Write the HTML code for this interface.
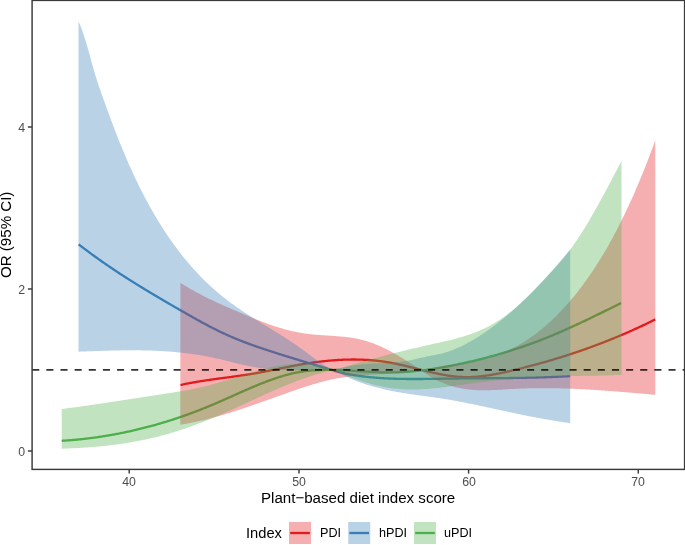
<!DOCTYPE html>
<html><head><meta charset="utf-8"><style>
html,body{margin:0;padding:0;background:#fff;}
body{width:685px;height:545px;position:relative;overflow:hidden;font-family:"Liberation Sans",sans-serif;}
svg{position:absolute;left:0;top:0;}
.t{position:absolute;white-space:nowrap;line-height:1;will-change:transform;}
.yt{color:#4D4D4D;font-size:12.3px;text-align:right;width:20px;}
.xt{color:#4D4D4D;font-size:12.3px;text-align:center;width:40px;}
.ttl{color:#000;font-size:15.1px;}
.lg{color:#000;font-size:12.6px;}
</style></head><body>
<svg width="685" height="545" viewBox="0 0 685 545">
<path d="M180.50,385.00 181.50,384.78 182.50,384.57 183.50,384.35 184.50,384.15 185.50,383.94 186.50,383.74 187.50,383.54 188.50,383.35 189.50,383.16 190.50,382.97 191.50,382.78 192.50,382.60 193.50,382.42 194.50,382.25 195.50,382.07 196.50,381.90 197.50,381.73 198.50,381.57 199.50,381.41 200.50,381.24 201.50,381.08 202.50,380.93 203.50,380.77 204.50,380.62 205.50,380.47 206.50,380.32 207.50,380.17 208.50,380.02 209.50,379.88 210.50,379.74 211.50,379.59 212.50,379.45 213.50,379.31 214.50,379.17 215.50,379.03 216.50,378.90 217.50,378.76 218.50,378.63 219.50,378.49 220.50,378.36 221.50,378.22 222.50,378.09 223.50,377.95 224.50,377.82 225.50,377.69 226.50,377.55 227.50,377.42 228.50,377.29 229.50,377.15 230.50,377.02 231.50,376.88 232.50,376.75 233.50,376.61 234.50,376.47 235.50,376.33 236.50,376.20 237.50,376.06 238.50,375.91 239.50,375.77 240.50,375.63 241.50,375.48 242.50,375.34 243.50,375.19 244.50,375.04 245.50,374.89 246.50,374.74 247.50,374.58 248.50,374.43 249.50,374.27 250.50,374.11 251.50,373.94 252.50,373.78 253.50,373.61 254.50,373.44 255.50,373.27 256.50,373.09 257.50,372.91 258.50,372.73 259.50,372.55 260.50,372.37 261.50,372.18 262.50,371.99 263.50,371.80 264.50,371.61 265.50,371.42 266.50,371.22 267.50,371.02 268.50,370.83 269.50,370.63 270.50,370.43 271.50,370.23 272.50,370.03 273.50,369.83 274.50,369.63 275.50,369.42 276.50,369.22 277.50,369.02 278.50,368.82 279.50,368.61 280.50,368.41 281.50,368.21 282.50,368.01 283.50,367.81 284.50,367.61 285.50,367.40 286.50,367.21 287.50,367.01 288.50,366.81 289.50,366.61 290.50,366.42 291.50,366.23 292.50,366.03 293.50,365.84 294.50,365.66 295.50,365.47 296.50,365.28 297.50,365.10 298.50,364.92 299.50,364.74 300.50,364.57 301.50,364.39 302.50,364.22 303.50,364.05 304.50,363.89 305.50,363.72 306.50,363.56 307.50,363.40 308.50,363.25 309.50,363.09 310.50,362.94 311.50,362.80 312.50,362.65 313.50,362.51 314.50,362.37 315.50,362.23 316.50,362.10 317.50,361.97 318.50,361.84 319.50,361.72 320.50,361.59 321.50,361.48 322.50,361.36 323.50,361.25 324.50,361.14 325.50,361.03 326.50,360.93 327.50,360.83 328.50,360.73 329.50,360.64 330.50,360.55 331.50,360.47 332.50,360.38 333.50,360.30 334.50,360.23 335.50,360.16 336.50,360.09 337.50,360.02 338.50,359.96 339.50,359.91 340.50,359.85 341.50,359.80 342.50,359.76 343.50,359.71 344.50,359.68 345.50,359.64 346.50,359.61 347.50,359.58 348.50,359.56 349.50,359.54 350.50,359.53 351.50,359.52 352.50,359.51 353.50,359.51 354.50,359.51 355.50,359.52 356.50,359.53 357.50,359.55 358.50,359.57 359.50,359.59 360.50,359.62 361.50,359.65 362.50,359.69 363.50,359.73 364.50,359.78 365.50,359.83 366.50,359.89 367.50,359.95 368.50,360.01 369.50,360.08 370.50,360.16 371.50,360.24 372.50,360.32 373.50,360.41 374.50,360.51 375.50,360.61 376.50,360.71 377.50,360.82 378.50,360.93 379.50,361.05 380.50,361.18 381.50,361.31 382.50,361.44 383.50,361.58 384.50,361.73 385.50,361.88 386.50,362.04 387.50,362.20 388.50,362.37 389.50,362.54 390.50,362.72 391.50,362.90 392.50,363.09 393.50,363.28 394.50,363.48 395.50,363.68 396.50,363.89 397.50,364.10 398.50,364.32 399.50,364.54 400.50,364.76 401.50,364.99 402.50,365.22 403.50,365.45 404.50,365.69 405.50,365.92 406.50,366.16 407.50,366.41 408.50,366.65 409.50,366.90 410.50,367.14 411.50,367.39 412.50,367.64 413.50,367.89 414.50,368.14 415.50,368.40 416.50,368.65 417.50,368.90 418.50,369.15 419.50,369.40 420.50,369.66 421.50,369.91 422.50,370.16 423.50,370.40 424.50,370.65 425.50,370.90 426.50,371.14 427.50,371.38 428.50,371.62 429.50,371.86 430.50,372.09 431.50,372.33 432.50,372.55 433.50,372.78 434.50,373.00 435.50,373.22 436.50,373.44 437.50,373.65 438.50,373.85 439.50,374.06 440.50,374.25 441.50,374.45 442.50,374.63 443.50,374.82 444.50,374.99 445.50,375.16 446.50,375.33 447.50,375.49 448.50,375.64 449.50,375.79 450.50,375.93 451.50,376.06 452.50,376.19 453.50,376.31 454.50,376.42 455.50,376.52 456.50,376.62 457.50,376.70 458.50,376.78 459.50,376.85 460.50,376.92 461.50,376.97 462.50,377.01 463.50,377.05 464.50,377.07 465.50,377.09 466.50,377.10 467.50,377.09 468.50,377.08 469.50,377.07 470.50,377.04 471.50,377.00 472.50,376.96 473.50,376.91 474.50,376.85 475.50,376.79 476.50,376.71 477.50,376.63 478.50,376.55 479.50,376.45 480.50,376.35 481.50,376.24 482.50,376.13 483.50,376.01 484.50,375.88 485.50,375.75 486.50,375.61 487.50,375.46 488.50,375.32 489.50,375.16 490.50,375.00 491.50,374.83 492.50,374.66 493.50,374.49 494.50,374.31 495.50,374.12 496.50,373.94 497.50,373.74 498.50,373.55 499.50,373.35 500.50,373.14 501.50,372.93 502.50,372.72 503.50,372.51 504.50,372.29 505.50,372.07 506.50,371.85 507.50,371.62 508.50,371.39 509.50,371.16 510.50,370.93 511.50,370.69 512.50,370.45 513.50,370.22 514.50,369.97 515.50,369.73 516.50,369.49 517.50,369.24 518.50,369.00 519.50,368.75 520.50,368.50 521.50,368.25 522.50,368.00 523.50,367.75 524.50,367.49 525.50,367.24 526.50,366.98 527.50,366.72 528.50,366.46 529.50,366.20 530.50,365.94 531.50,365.68 532.50,365.41 533.50,365.14 534.50,364.87 535.50,364.60 536.50,364.33 537.50,364.06 538.50,363.78 539.50,363.51 540.50,363.23 541.50,362.95 542.50,362.67 543.50,362.39 544.50,362.10 545.50,361.82 546.50,361.53 547.50,361.24 548.50,360.95 549.50,360.66 550.50,360.37 551.50,360.07 552.50,359.78 553.50,359.48 554.50,359.18 555.50,358.88 556.50,358.58 557.50,358.27 558.50,357.97 559.50,357.66 560.50,357.35 561.50,357.04 562.50,356.72 563.50,356.41 564.50,356.09 565.50,355.78 566.50,355.46 567.50,355.13 568.50,354.81 569.50,354.49 570.50,354.16 571.50,353.83 572.50,353.50 573.50,353.17 574.50,352.84 575.50,352.50 576.50,352.16 577.50,351.83 578.50,351.48 579.50,351.14 580.50,350.80 581.50,350.45 582.50,350.10 583.50,349.75 584.50,349.40 585.50,349.05 586.50,348.69 587.50,348.34 588.50,347.98 589.50,347.62 590.50,347.25 591.50,346.89 592.50,346.52 593.50,346.16 594.50,345.78 595.50,345.41 596.50,345.04 597.50,344.66 598.50,344.28 599.50,343.90 600.50,343.52 601.50,343.14 602.50,342.75 603.50,342.37 604.50,341.98 605.50,341.58 606.50,341.19 607.50,340.79 608.50,340.40 609.50,340.00 610.50,339.59 611.50,339.19 612.50,338.78 613.50,338.38 614.50,337.97 615.50,337.55 616.50,337.14 617.50,336.72 618.50,336.31 619.50,335.89 620.50,335.46 621.50,335.04 622.50,334.61 623.50,334.18 624.50,333.75 625.50,333.32 626.50,332.88 627.50,332.45 628.50,332.01 629.50,331.57 630.50,331.12 631.50,330.68 632.50,330.23 633.50,329.78 634.50,329.32 635.50,328.87 636.50,328.41 637.50,327.95 638.50,327.49 639.50,327.03 640.50,326.56 641.50,326.09 642.50,325.62 643.50,325.15 644.50,324.68 645.50,324.20 646.50,323.72 647.50,323.24 648.50,322.75 649.50,322.27 650.50,321.78 651.50,321.29 652.50,320.79 653.50,320.30 654.50,319.80 655.30,319.40" fill="none" stroke="#E41A1C" stroke-width="2.3"/>
<path d="M78.60,244.30 79.60,245.07 80.60,245.84 81.60,246.61 82.60,247.38 83.60,248.14 84.60,248.89 85.60,249.64 86.60,250.39 87.60,251.14 88.60,251.88 89.60,252.62 90.60,253.36 91.60,254.09 92.60,254.82 93.60,255.55 94.60,256.27 95.60,256.99 96.60,257.71 97.60,258.42 98.60,259.14 99.60,259.84 100.60,260.55 101.60,261.25 102.60,261.95 103.60,262.65 104.60,263.34 105.60,264.03 106.60,264.72 107.60,265.41 108.60,266.09 109.60,266.77 110.60,267.45 111.60,268.12 112.60,268.80 113.60,269.47 114.60,270.13 115.60,270.80 116.60,271.46 117.60,272.12 118.60,272.78 119.60,273.44 120.60,274.09 121.60,274.74 122.60,275.39 123.60,276.04 124.60,276.68 125.60,277.32 126.60,277.96 127.60,278.60 128.60,279.24 129.60,279.87 130.60,280.50 131.60,281.13 132.60,281.76 133.60,282.39 134.60,283.01 135.60,283.64 136.60,284.26 137.60,284.88 138.60,285.49 139.60,286.11 140.60,286.72 141.60,287.34 142.60,287.95 143.60,288.56 144.60,289.17 145.60,289.77 146.60,290.38 147.60,290.98 148.60,291.58 149.60,292.18 150.60,292.78 151.60,293.38 152.60,293.98 153.60,294.58 154.60,295.17 155.60,295.76 156.60,296.36 157.60,296.95 158.60,297.54 159.60,298.13 160.60,298.72 161.60,299.30 162.60,299.89 163.60,300.47 164.60,301.06 165.60,301.64 166.60,302.23 167.60,302.81 168.60,303.39 169.60,303.97 170.60,304.55 171.60,305.13 172.60,305.71 173.60,306.29 174.60,306.87 175.60,307.44 176.60,308.02 177.60,308.60 178.60,309.17 179.60,309.75 180.60,310.32 181.60,310.90 182.60,311.47 183.60,312.05 184.60,312.62 185.60,313.19 186.60,313.76 187.60,314.33 188.60,314.90 189.60,315.47 190.60,316.04 191.60,316.60 192.60,317.17 193.60,317.73 194.60,318.29 195.60,318.85 196.60,319.41 197.60,319.96 198.60,320.52 199.60,321.07 200.60,321.62 201.60,322.16 202.60,322.70 203.60,323.25 204.60,323.78 205.60,324.32 206.60,324.85 207.60,325.38 208.60,325.91 209.60,326.43 210.60,326.95 211.60,327.47 212.60,327.98 213.60,328.49 214.60,329.00 215.60,329.50 216.60,330.00 217.60,330.49 218.60,330.98 219.60,331.47 220.60,331.95 221.60,332.42 222.60,332.90 223.60,333.36 224.60,333.83 225.60,334.29 226.60,334.74 227.60,335.19 228.60,335.63 229.60,336.07 230.60,336.51 231.60,336.94 232.60,337.37 233.60,337.79 234.60,338.21 235.60,338.62 236.60,339.03 237.60,339.44 238.60,339.84 239.60,340.24 240.60,340.64 241.60,341.03 242.60,341.42 243.60,341.80 244.60,342.18 245.60,342.56 246.60,342.94 247.60,343.31 248.60,343.68 249.60,344.05 250.60,344.41 251.60,344.77 252.60,345.13 253.60,345.49 254.60,345.84 255.60,346.19 256.60,346.54 257.60,346.89 258.60,347.23 259.60,347.57 260.60,347.92 261.60,348.25 262.60,348.59 263.60,348.93 264.60,349.26 265.60,349.59 266.60,349.92 267.60,350.25 268.60,350.58 269.60,350.91 270.60,351.23 271.60,351.56 272.60,351.88 273.60,352.20 274.60,352.53 275.60,352.85 276.60,353.16 277.60,353.48 278.60,353.80 279.60,354.12 280.60,354.43 281.60,354.75 282.60,355.06 283.60,355.38 284.60,355.69 285.60,356.00 286.60,356.31 287.60,356.62 288.60,356.93 289.60,357.24 290.60,357.55 291.60,357.86 292.60,358.16 293.60,358.47 294.60,358.78 295.60,359.08 296.60,359.39 297.60,359.69 298.60,360.00 299.60,360.30 300.60,360.61 301.60,360.91 302.60,361.21 303.60,361.52 304.60,361.82 305.60,362.12 306.60,362.42 307.60,362.73 308.60,363.03 309.60,363.33 310.60,363.63 311.60,363.93 312.60,364.24 313.60,364.54 314.60,364.84 315.60,365.14 316.60,365.44 317.60,365.75 318.60,366.05 319.60,366.35 320.60,366.65 321.60,366.96 322.60,367.26 323.60,367.56 324.60,367.86 325.60,368.16 326.60,368.46 327.60,368.76 328.60,369.06 329.60,369.35 330.60,369.64 331.60,369.93 332.60,370.21 333.60,370.50 334.60,370.78 335.60,371.05 336.60,371.32 337.60,371.59 338.60,371.85 339.60,372.11 340.60,372.36 341.60,372.61 342.60,372.85 343.60,373.09 344.60,373.32 345.60,373.54 346.60,373.76 347.60,373.97 348.60,374.17 349.60,374.37 350.60,374.55 351.60,374.74 352.60,374.91 353.60,375.08 354.60,375.25 355.60,375.41 356.60,375.56 357.60,375.71 358.60,375.85 359.60,375.99 360.60,376.12 361.60,376.25 362.60,376.38 363.60,376.50 364.60,376.61 365.60,376.73 366.60,376.84 367.60,376.95 368.60,377.05 369.60,377.15 370.60,377.25 371.60,377.34 372.60,377.43 373.60,377.52 374.60,377.61 375.60,377.69 376.60,377.77 377.60,377.84 378.60,377.91 379.60,377.99 380.60,378.05 381.60,378.12 382.60,378.18 383.60,378.24 384.60,378.30 385.60,378.35 386.60,378.40 387.60,378.45 388.60,378.50 389.60,378.54 390.60,378.58 391.60,378.62 392.60,378.66 393.60,378.70 394.60,378.73 395.60,378.76 396.60,378.79 397.60,378.82 398.60,378.84 399.60,378.87 400.60,378.89 401.60,378.91 402.60,378.93 403.60,378.94 404.60,378.96 405.60,378.97 406.60,378.98 407.60,378.99 408.60,379.00 409.60,379.01 410.60,379.01 411.60,379.01 412.60,379.02 413.60,379.02 414.60,379.02 415.60,379.02 416.60,379.02 417.60,379.01 418.60,379.01 419.60,379.00 420.60,379.00 421.60,378.99 422.60,378.98 423.60,378.97 424.60,378.96 425.60,378.95 426.60,378.94 427.60,378.93 428.60,378.92 429.60,378.90 430.60,378.89 431.60,378.88 432.60,378.86 433.60,378.85 434.60,378.83 435.60,378.82 436.60,378.80 437.60,378.78 438.60,378.77 439.60,378.75 440.60,378.74 441.60,378.72 442.60,378.70 443.60,378.69 444.60,378.67 445.60,378.66 446.60,378.64 447.60,378.63 448.60,378.61 449.60,378.60 450.60,378.58 451.60,378.57 452.60,378.56 453.60,378.54 454.60,378.53 455.60,378.52 456.60,378.51 457.60,378.49 458.60,378.48 459.60,378.47 460.60,378.46 461.60,378.45 462.60,378.44 463.60,378.43 464.60,378.42 465.60,378.41 466.60,378.40 467.60,378.39 468.60,378.39 469.60,378.38 470.60,378.37 471.60,378.36 472.60,378.35 473.60,378.34 474.60,378.34 475.60,378.33 476.60,378.32 477.60,378.31 478.60,378.30 479.60,378.30 480.60,378.29 481.60,378.28 482.60,378.27 483.60,378.27 484.60,378.26 485.60,378.25 486.60,378.24 487.60,378.24 488.60,378.23 489.60,378.22 490.60,378.21 491.60,378.20 492.60,378.20 493.60,378.19 494.60,378.18 495.60,378.17 496.60,378.16 497.60,378.15 498.60,378.14 499.60,378.13 500.60,378.12 501.60,378.11 502.60,378.10 503.60,378.09 504.60,378.08 505.60,378.07 506.60,378.06 507.60,378.05 508.60,378.04 509.60,378.02 510.60,378.01 511.60,378.00 512.60,377.98 513.60,377.97 514.60,377.96 515.60,377.94 516.60,377.92 517.60,377.91 518.60,377.89 519.60,377.88 520.60,377.86 521.60,377.84 522.60,377.82 523.60,377.80 524.60,377.78 525.60,377.77 526.60,377.74 527.60,377.72 528.60,377.70 529.60,377.68 530.60,377.66 531.60,377.63 532.60,377.61 533.60,377.58 534.60,377.56 535.60,377.53 536.60,377.51 537.60,377.48 538.60,377.45 539.60,377.42 540.60,377.39 541.60,377.36 542.60,377.33 543.60,377.30 544.60,377.26 545.60,377.23 546.60,377.19 547.60,377.16 548.60,377.12 549.60,377.09 550.60,377.05 551.60,377.01 552.60,376.97 553.60,376.93 554.60,376.89 555.60,376.84 556.60,376.80 557.60,376.75 558.60,376.71 559.60,376.66 560.60,376.61 561.60,376.56 562.60,376.51 563.60,376.46 564.60,376.41 565.60,376.36 566.60,376.30 567.60,376.25 568.60,376.19 569.60,376.13 570.20,376.10" fill="none" stroke="#377EB8" stroke-width="2.3"/>
<path d="M61.70,440.80 62.70,440.74 63.70,440.68 64.70,440.61 65.70,440.54 66.70,440.47 67.70,440.40 68.70,440.33 69.70,440.25 70.70,440.17 71.70,440.09 72.70,440.00 73.70,439.92 74.70,439.83 75.70,439.74 76.70,439.64 77.70,439.55 78.70,439.45 79.70,439.35 80.70,439.25 81.70,439.14 82.70,439.03 83.70,438.92 84.70,438.81 85.70,438.70 86.70,438.58 87.70,438.46 88.70,438.34 89.70,438.22 90.70,438.09 91.70,437.96 92.70,437.83 93.70,437.70 94.70,437.56 95.70,437.42 96.70,437.28 97.70,437.14 98.70,436.99 99.70,436.84 100.70,436.69 101.70,436.54 102.70,436.39 103.70,436.23 104.70,436.07 105.70,435.91 106.70,435.74 107.70,435.58 108.70,435.41 109.70,435.24 110.70,435.06 111.70,434.89 112.70,434.71 113.70,434.53 114.70,434.34 115.70,434.16 116.70,433.97 117.70,433.78 118.70,433.59 119.70,433.39 120.70,433.19 121.70,432.99 122.70,432.79 123.70,432.59 124.70,432.38 125.70,432.17 126.70,431.96 127.70,431.74 128.70,431.53 129.70,431.31 130.70,431.09 131.70,430.86 132.70,430.64 133.70,430.41 134.70,430.18 135.70,429.94 136.70,429.71 137.70,429.47 138.70,429.23 139.70,428.98 140.70,428.74 141.70,428.49 142.70,428.24 143.70,427.99 144.70,427.73 145.70,427.47 146.70,427.21 147.70,426.95 148.70,426.69 149.70,426.42 150.70,426.15 151.70,425.88 152.70,425.60 153.70,425.33 154.70,425.05 155.70,424.77 156.70,424.48 157.70,424.19 158.70,423.91 159.70,423.61 160.70,423.32 161.70,423.02 162.70,422.72 163.70,422.42 164.70,422.12 165.70,421.81 166.70,421.51 167.70,421.19 168.70,420.88 169.70,420.57 170.70,420.25 171.70,419.93 172.70,419.60 173.70,419.28 174.70,418.95 175.70,418.62 176.70,418.29 177.70,417.95 178.70,417.61 179.70,417.27 180.70,416.93 181.70,416.59 182.70,416.24 183.70,415.89 184.70,415.54 185.70,415.18 186.70,414.82 187.70,414.46 188.70,414.10 189.70,413.74 190.70,413.37 191.70,413.00 192.70,412.63 193.70,412.25 194.70,411.88 195.70,411.50 196.70,411.12 197.70,410.73 198.70,410.34 199.70,409.96 200.70,409.56 201.70,409.17 202.70,408.77 203.70,408.37 204.70,407.97 205.70,407.57 206.70,407.16 207.70,406.75 208.70,406.34 209.70,405.93 210.70,405.51 211.70,405.09 212.70,404.67 213.70,404.25 214.70,403.82 215.70,403.39 216.70,402.96 217.70,402.53 218.70,402.10 219.70,401.66 220.70,401.22 221.70,400.78 222.70,400.34 223.70,399.90 224.70,399.46 225.70,399.01 226.70,398.57 227.70,398.12 228.70,397.67 229.70,397.23 230.70,396.78 231.70,396.33 232.70,395.88 233.70,395.44 234.70,394.99 235.70,394.54 236.70,394.09 237.70,393.65 238.70,393.20 239.70,392.75 240.70,392.31 241.70,391.87 242.70,391.42 243.70,390.98 244.70,390.54 245.70,390.10 246.70,389.67 247.70,389.23 248.70,388.80 249.70,388.36 250.70,387.93 251.70,387.51 252.70,387.08 253.70,386.66 254.70,386.24 255.70,385.82 256.70,385.41 257.70,385.00 258.70,384.59 259.70,384.18 260.70,383.78 261.70,383.38 262.70,382.99 263.70,382.59 264.70,382.21 265.70,381.82 266.70,381.44 267.70,381.07 268.70,380.70 269.70,380.33 270.70,379.97 271.70,379.61 272.70,379.26 273.70,378.91 274.70,378.57 275.70,378.23 276.70,377.90 277.70,377.57 278.70,377.25 279.70,376.93 280.70,376.62 281.70,376.32 282.70,376.02 283.70,375.73 284.70,375.44 285.70,375.16 286.70,374.89 287.70,374.63 288.70,374.37 289.70,374.11 290.70,373.87 291.70,373.63 292.70,373.40 293.70,373.18 294.70,372.96 295.70,372.75 296.70,372.55 297.70,372.36 298.70,372.17 299.70,372.00 300.70,371.83 301.70,371.67 302.70,371.51 303.70,371.37 304.70,371.23 305.70,371.10 306.70,370.98 307.70,370.86 308.70,370.75 309.70,370.65 310.70,370.55 311.70,370.46 312.70,370.38 313.70,370.30 314.70,370.23 315.70,370.17 316.70,370.11 317.70,370.06 318.70,370.01 319.70,369.97 320.70,369.93 321.70,369.90 322.70,369.87 323.70,369.85 324.70,369.83 325.70,369.82 326.70,369.81 327.70,369.81 328.70,369.81 329.70,369.81 330.70,369.82 331.70,369.83 332.70,369.85 333.70,369.87 334.70,369.89 335.70,369.92 336.70,369.95 337.70,369.98 338.70,370.01 339.70,370.05 340.70,370.09 341.70,370.14 342.70,370.18 343.70,370.23 344.70,370.28 345.70,370.33 346.70,370.38 347.70,370.44 348.70,370.49 349.70,370.55 350.70,370.61 351.70,370.67 352.70,370.73 353.70,370.79 354.70,370.86 355.70,370.92 356.70,370.98 357.70,371.05 358.70,371.11 359.70,371.17 360.70,371.24 361.70,371.30 362.70,371.36 363.70,371.43 364.70,371.49 365.70,371.55 366.70,371.61 367.70,371.67 368.70,371.73 369.70,371.78 370.70,371.84 371.70,371.89 372.70,371.94 373.70,371.99 374.70,372.04 375.70,372.08 376.70,372.13 377.70,372.17 378.70,372.21 379.70,372.24 380.70,372.28 381.70,372.31 382.70,372.33 383.70,372.36 384.70,372.38 385.70,372.39 386.70,372.41 387.70,372.41 388.70,372.42 389.70,372.42 390.70,372.42 391.70,372.41 392.70,372.40 393.70,372.38 394.70,372.36 395.70,372.34 396.70,372.31 397.70,372.28 398.70,372.25 399.70,372.21 400.70,372.16 401.70,372.11 402.70,372.06 403.70,372.01 404.70,371.95 405.70,371.89 406.70,371.82 407.70,371.75 408.70,371.68 409.70,371.60 410.70,371.52 411.70,371.44 412.70,371.35 413.70,371.26 414.70,371.16 415.70,371.07 416.70,370.96 417.70,370.86 418.70,370.75 419.70,370.64 420.70,370.53 421.70,370.41 422.70,370.29 423.70,370.17 424.70,370.04 425.70,369.91 426.70,369.78 427.70,369.64 428.70,369.50 429.70,369.36 430.70,369.22 431.70,369.07 432.70,368.92 433.70,368.77 434.70,368.61 435.70,368.45 436.70,368.29 437.70,368.13 438.70,367.96 439.70,367.80 440.70,367.62 441.70,367.45 442.70,367.27 443.70,367.10 444.70,366.92 445.70,366.73 446.70,366.55 447.70,366.36 448.70,366.17 449.70,365.98 450.70,365.78 451.70,365.59 452.70,365.39 453.70,365.19 454.70,364.98 455.70,364.78 456.70,364.57 457.70,364.36 458.70,364.15 459.70,363.94 460.70,363.73 461.70,363.51 462.70,363.29 463.70,363.08 464.70,362.85 465.70,362.63 466.70,362.41 467.70,362.18 468.70,361.95 469.70,361.72 470.70,361.49 471.70,361.26 472.70,361.02 473.70,360.78 474.70,360.54 475.70,360.30 476.70,360.06 477.70,359.81 478.70,359.57 479.70,359.32 480.70,359.07 481.70,358.82 482.70,358.56 483.70,358.30 484.70,358.05 485.70,357.79 486.70,357.52 487.70,357.26 488.70,356.99 489.70,356.72 490.70,356.45 491.70,356.18 492.70,355.91 493.70,355.63 494.70,355.35 495.70,355.07 496.70,354.79 497.70,354.50 498.70,354.21 499.70,353.92 500.70,353.63 501.70,353.34 502.70,353.04 503.70,352.75 504.70,352.44 505.70,352.14 506.70,351.84 507.70,351.53 508.70,351.22 509.70,350.91 510.70,350.60 511.70,350.28 512.70,349.96 513.70,349.64 514.70,349.32 515.70,348.99 516.70,348.66 517.70,348.33 518.70,348.00 519.70,347.67 520.70,347.33 521.70,346.99 522.70,346.65 523.70,346.30 524.70,345.96 525.70,345.61 526.70,345.26 527.70,344.90 528.70,344.55 529.70,344.19 530.70,343.83 531.70,343.46 532.70,343.10 533.70,342.73 534.70,342.35 535.70,341.98 536.70,341.60 537.70,341.22 538.70,340.84 539.70,340.46 540.70,340.07 541.70,339.68 542.70,339.29 543.70,338.89 544.70,338.50 545.70,338.10 546.70,337.69 547.70,337.29 548.70,336.88 549.70,336.47 550.70,336.06 551.70,335.65 552.70,335.23 553.70,334.81 554.70,334.39 555.70,333.97 556.70,333.54 557.70,333.11 558.70,332.68 559.70,332.25 560.70,331.82 561.70,331.38 562.70,330.94 563.70,330.50 564.70,330.06 565.70,329.62 566.70,329.17 567.70,328.72 568.70,328.28 569.70,327.82 570.70,327.37 571.70,326.92 572.70,326.46 573.70,326.00 574.70,325.54 575.70,325.08 576.70,324.62 577.70,324.16 578.70,323.69 579.70,323.22 580.70,322.75 581.70,322.28 582.70,321.81 583.70,321.34 584.70,320.87 585.70,320.39 586.70,319.91 587.70,319.44 588.70,318.96 589.70,318.48 590.70,317.99 591.70,317.51 592.70,317.03 593.70,316.54 594.70,316.06 595.70,315.57 596.70,315.08 597.70,314.59 598.70,314.10 599.70,313.61 600.70,313.12 601.70,312.63 602.70,312.13 603.70,311.64 604.70,311.15 605.70,310.65 606.70,310.15 607.70,309.66 608.70,309.16 609.70,308.66 610.70,308.16 611.70,307.66 612.70,307.16 613.70,306.66 614.70,306.16 615.70,305.66 616.70,305.16 617.70,304.66 618.70,304.16 619.70,303.65 620.70,303.15 621.00,303.00" fill="none" stroke="#4DAF4A" stroke-width="2.3"/>
<path d="M180.40,282.80 181.40,283.44 182.40,284.07 183.40,284.69 184.40,285.31 185.40,285.92 186.40,286.52 187.40,287.12 188.40,287.71 189.40,288.30 190.40,288.88 191.40,289.45 192.40,290.02 193.40,290.58 194.40,291.14 195.40,291.69 196.40,292.23 197.40,292.77 198.40,293.31 199.40,293.84 200.40,294.37 201.40,294.89 202.40,295.40 203.40,295.92 204.40,296.42 205.40,296.93 206.40,297.43 207.40,297.92 208.40,298.41 209.40,298.90 210.40,299.38 211.40,299.86 212.40,300.34 213.40,300.81 214.40,301.28 215.40,301.75 216.40,302.21 217.40,302.67 218.40,303.13 219.40,303.59 220.40,304.04 221.40,304.49 222.40,304.94 223.40,305.38 224.40,305.82 225.40,306.27 226.40,306.71 227.40,307.14 228.40,307.58 229.40,308.01 230.40,308.44 231.40,308.88 232.40,309.30 233.40,309.73 234.40,310.16 235.40,310.59 236.40,311.01 237.40,311.44 238.40,311.86 239.40,312.29 240.40,312.71 241.40,313.13 242.40,313.56 243.40,313.98 244.40,314.40 245.40,314.82 246.40,315.25 247.40,315.67 248.40,316.09 249.40,316.51 250.40,316.93 251.40,317.35 252.40,317.76 253.40,318.18 254.40,318.59 255.40,319.00 256.40,319.41 257.40,319.82 258.40,320.22 259.40,320.62 260.40,321.02 261.40,321.41 262.40,321.80 263.40,322.19 264.40,322.57 265.40,322.95 266.40,323.33 267.40,323.70 268.40,324.06 269.40,324.43 270.40,324.78 271.40,325.13 272.40,325.48 273.40,325.82 274.40,326.15 275.40,326.48 276.40,326.80 277.40,327.12 278.40,327.43 279.40,327.74 280.40,328.04 281.40,328.33 282.40,328.62 283.40,328.90 284.40,329.18 285.40,329.45 286.40,329.72 287.40,329.97 288.40,330.23 289.40,330.47 290.40,330.71 291.40,330.95 292.40,331.17 293.40,331.40 294.40,331.61 295.40,331.82 296.40,332.02 297.40,332.22 298.40,332.41 299.40,332.59 300.40,332.77 301.40,332.94 302.40,333.10 303.40,333.26 304.40,333.41 305.40,333.55 306.40,333.69 307.40,333.82 308.40,333.95 309.40,334.06 310.40,334.18 311.40,334.29 312.40,334.39 313.40,334.49 314.40,334.58 315.40,334.67 316.40,334.75 317.40,334.84 318.40,334.92 319.40,334.99 320.40,335.06 321.40,335.14 322.40,335.21 323.40,335.27 324.40,335.34 325.40,335.40 326.40,335.47 327.40,335.53 328.40,335.60 329.40,335.66 330.40,335.72 331.40,335.79 332.40,335.86 333.40,335.92 334.40,335.99 335.40,336.06 336.40,336.14 337.40,336.21 338.40,336.29 339.40,336.38 340.40,336.46 341.40,336.55 342.40,336.64 343.40,336.74 344.40,336.85 345.40,336.96 346.40,337.07 347.40,337.19 348.40,337.32 349.40,337.45 350.40,337.59 351.40,337.74 352.40,337.90 353.40,338.06 354.40,338.24 355.40,338.42 356.40,338.61 357.40,338.81 358.40,339.02 359.40,339.24 360.40,339.48 361.40,339.72 362.40,339.97 363.40,340.24 364.40,340.51 365.40,340.79 366.40,341.09 367.40,341.40 368.40,341.71 369.40,342.04 370.40,342.38 371.40,342.73 372.40,343.09 373.40,343.46 374.40,343.84 375.40,344.23 376.40,344.64 377.40,345.05 378.40,345.48 379.40,345.91 380.40,346.36 381.40,346.81 382.40,347.28 383.40,347.75 384.40,348.24 385.40,348.73 386.40,349.23 387.40,349.74 388.40,350.26 389.40,350.78 390.40,351.32 391.40,351.86 392.40,352.40 393.40,352.96 394.40,353.52 395.40,354.09 396.40,354.66 397.40,355.24 398.40,355.83 399.40,356.42 400.40,357.02 401.40,357.62 402.40,358.22 403.40,358.84 404.40,359.45 405.40,360.07 406.40,360.69 407.40,361.32 408.40,361.95 409.40,362.58 410.40,363.22 411.40,363.86 412.40,364.50 413.40,365.14 414.40,365.79 415.40,366.43 416.40,367.08 417.40,367.73 418.40,368.38 419.40,369.03 420.40,369.68 421.40,370.34 421.50,370.40 422.50,370.14 423.50,369.88 424.50,369.64 425.50,369.40 426.50,369.16 427.50,368.94 428.50,368.72 429.50,368.50 430.50,368.29 431.50,368.09 432.50,367.89 433.50,367.70 434.50,367.51 435.50,367.33 436.50,367.15 437.50,366.97 438.50,366.80 439.50,366.63 440.50,366.46 441.50,366.30 442.50,366.14 443.50,365.99 444.50,365.83 445.50,365.68 446.50,365.53 447.50,365.38 448.50,365.24 449.50,365.09 450.50,364.94 451.50,364.80 452.50,364.66 453.50,364.51 454.50,364.37 455.50,364.23 456.50,364.08 457.50,363.94 458.50,363.79 459.50,363.64 460.50,363.49 461.50,363.34 462.50,363.19 463.50,363.04 464.50,362.88 465.50,362.72 466.50,362.56 467.50,362.39 468.50,362.23 469.50,362.05 470.50,361.88 471.50,361.70 472.50,361.51 473.50,361.32 474.50,361.13 475.50,360.93 476.50,360.73 477.50,360.52 478.50,360.30 479.50,360.08 480.50,359.85 481.50,359.62 482.50,359.38 483.50,359.13 484.50,358.88 485.50,358.61 486.50,358.35 487.50,358.07 488.50,357.79 489.50,357.50 490.50,357.20 491.50,356.89 492.50,356.58 493.50,356.25 494.50,355.92 495.50,355.58 496.50,355.23 497.50,354.88 498.50,354.51 499.50,354.13 500.50,353.75 501.50,353.35 502.50,352.95 503.50,352.53 504.50,352.11 505.50,351.68 506.50,351.24 507.50,350.78 508.50,350.32 509.50,349.85 510.50,349.37 511.50,348.87 512.50,348.37 513.50,347.86 514.50,347.34 515.50,346.80 516.50,346.26 517.50,345.71 518.50,345.15 519.50,344.57 520.50,343.99 521.50,343.39 522.50,342.79 523.50,342.17 524.50,341.55 525.50,340.91 526.50,340.26 527.50,339.61 528.50,338.94 529.50,338.26 530.50,337.57 531.50,336.87 532.50,336.15 533.50,335.43 534.50,334.70 535.50,333.95 536.50,333.19 537.50,332.43 538.50,331.65 539.50,330.86 540.50,330.05 541.50,329.24 542.50,328.42 543.50,327.58 544.50,326.73 545.50,325.87 546.50,325.00 547.50,324.12 548.50,323.22 549.50,322.32 550.50,321.40 551.50,320.47 552.50,319.53 553.50,318.57 554.50,317.61 555.50,316.63 556.50,315.64 557.50,314.64 558.50,313.62 559.50,312.59 560.50,311.56 561.50,310.50 562.50,309.44 563.50,308.36 564.50,307.27 565.50,306.17 566.50,305.06 567.50,303.93 568.50,302.79 569.50,301.64 570.50,300.47 571.50,299.29 572.50,298.10 573.50,296.89 574.50,295.67 575.50,294.44 576.50,293.19 577.50,291.93 578.50,290.65 579.50,289.36 580.50,288.06 581.50,286.74 582.50,285.40 583.50,284.05 584.50,282.69 585.50,281.31 586.50,279.92 587.50,278.51 588.50,277.08 589.50,275.64 590.50,274.18 591.50,272.71 592.50,271.22 593.50,269.72 594.50,268.20 595.50,266.66 596.50,265.11 597.50,263.54 598.50,261.95 599.50,260.35 600.50,258.73 601.50,257.09 602.50,255.44 603.50,253.76 604.50,252.07 605.50,250.37 606.50,248.64 607.50,246.90 608.50,245.14 609.50,243.36 610.50,241.56 611.50,239.75 612.50,237.91 613.50,236.06 614.50,234.19 615.50,232.30 616.50,230.39 617.50,228.46 618.50,226.51 619.50,224.55 620.50,222.56 621.50,220.55 622.50,218.53 623.50,216.48 624.50,214.41 625.50,212.33 626.50,210.22 627.50,208.10 628.50,205.95 629.50,203.78 630.50,201.59 631.50,199.38 632.50,197.15 633.50,194.90 634.50,192.63 635.50,190.33 636.50,188.02 637.50,185.68 638.50,183.32 639.50,180.94 640.50,178.53 641.50,176.11 642.50,173.66 643.50,171.19 644.50,168.70 645.50,166.18 646.50,163.64 647.50,161.08 648.50,158.50 649.50,155.89 650.50,153.26 651.50,150.60 652.50,147.92 653.50,145.22 654.50,142.50 655.30,140.30 L655.30,394.80 654.50,394.73 653.50,394.64 652.50,394.55 651.50,394.47 650.50,394.38 649.50,394.29 648.50,394.20 647.50,394.11 646.50,394.03 645.50,393.94 644.50,393.85 643.50,393.76 642.50,393.68 641.50,393.59 640.50,393.50 639.50,393.41 638.50,393.33 637.50,393.24 636.50,393.15 635.50,393.07 634.50,392.98 633.50,392.90 632.50,392.81 631.50,392.73 630.50,392.64 629.50,392.56 628.50,392.47 627.50,392.39 626.50,392.31 625.50,392.22 624.50,392.14 623.50,392.06 622.50,391.98 621.50,391.90 620.50,391.81 619.50,391.73 618.50,391.65 617.50,391.57 616.50,391.50 615.50,391.42 614.50,391.34 613.50,391.26 612.50,391.19 611.50,391.11 610.50,391.04 609.50,390.96 608.50,390.89 607.50,390.81 606.50,390.74 605.50,390.67 604.50,390.60 603.50,390.53 602.50,390.46 601.50,390.39 600.50,390.32 599.50,390.25 598.50,390.18 597.50,390.12 596.50,390.05 595.50,389.99 594.50,389.92 593.50,389.86 592.50,389.80 591.50,389.74 590.50,389.68 589.50,389.62 588.50,389.56 587.50,389.50 586.50,389.45 585.50,389.39 584.50,389.34 583.50,389.28 582.50,389.23 581.50,389.18 580.50,389.13 579.50,389.08 578.50,389.03 577.50,388.99 576.50,388.94 575.50,388.90 574.50,388.85 573.50,388.81 572.50,388.77 571.50,388.73 570.50,388.69 569.50,388.65 568.50,388.61 567.50,388.58 566.50,388.55 565.50,388.51 564.50,388.48 563.50,388.45 562.50,388.42 561.50,388.40 560.50,388.37 559.50,388.34 558.50,388.32 557.50,388.30 556.50,388.28 555.50,388.26 554.50,388.24 553.50,388.23 552.50,388.21 551.50,388.20 550.50,388.19 549.50,388.18 548.50,388.17 547.50,388.16 546.50,388.15 545.50,388.15 544.50,388.15 543.50,388.15 542.50,388.15 541.50,388.15 540.50,388.15 539.50,388.16 538.50,388.17 537.50,388.18 536.50,388.19 535.50,388.20 534.50,388.21 533.50,388.23 532.50,388.25 531.50,388.27 530.50,388.29 529.50,388.31 528.50,388.34 527.50,388.36 526.50,388.39 525.50,388.42 524.50,388.45 523.50,388.49 522.50,388.52 521.50,388.56 520.50,388.60 519.50,388.64 518.50,388.69 517.50,388.73 516.50,388.78 515.50,388.83 514.50,388.88 513.50,388.94 512.50,388.99 511.50,389.05 510.50,389.11 509.50,389.17 508.50,389.23 507.50,389.29 506.50,389.35 505.50,389.41 504.50,389.47 503.50,389.53 502.50,389.59 501.50,389.65 500.50,389.70 499.50,389.76 498.50,389.81 497.50,389.86 496.50,389.91 495.50,389.96 494.50,390.00 493.50,390.05 492.50,390.08 491.50,390.12 490.50,390.15 489.50,390.18 488.50,390.20 487.50,390.22 486.50,390.24 485.50,390.25 484.50,390.25 483.50,390.25 482.50,390.25 481.50,390.23 480.50,390.22 479.50,390.19 478.50,390.16 477.50,390.13 476.50,390.08 475.50,390.03 474.50,389.97 473.50,389.91 472.50,389.83 471.50,389.75 470.50,389.66 469.50,389.56 468.50,389.45 467.50,389.34 466.50,389.21 465.50,389.07 464.50,388.93 463.50,388.77 462.50,388.61 461.50,388.43 460.50,388.24 459.50,388.04 458.50,387.83 457.50,387.61 456.50,387.38 455.50,387.14 454.50,386.88 453.50,386.61 452.50,386.33 451.50,386.04 450.50,385.73 449.50,385.42 448.50,385.08 447.50,384.74 446.50,384.38 445.50,384.01 444.50,383.62 443.50,383.22 442.50,382.80 441.50,382.37 440.50,381.93 439.50,381.47 438.50,381.00 437.50,380.51 436.50,380.00 435.50,379.48 434.50,378.94 433.50,378.39 432.50,377.82 431.50,377.23 430.50,376.63 429.50,376.00 428.50,375.37 427.50,374.71 426.50,374.04 425.50,373.35 424.50,372.64 423.50,371.91 422.50,371.16 421.50,370.40 421.30,370.44 420.30,370.61 419.30,370.77 418.30,370.93 417.30,371.09 416.30,371.24 415.30,371.38 414.30,371.52 413.30,371.65 412.30,371.78 411.30,371.91 410.30,372.03 409.30,372.14 408.30,372.26 407.30,372.36 406.30,372.47 405.30,372.57 404.30,372.66 403.30,372.75 402.30,372.84 401.30,372.93 400.30,373.01 399.30,373.09 398.30,373.17 397.30,373.24 396.30,373.32 395.30,373.39 394.30,373.45 393.30,373.52 392.30,373.58 391.30,373.64 390.30,373.70 389.30,373.76 388.30,373.82 387.30,373.88 386.30,373.93 385.30,373.99 384.30,374.04 383.30,374.09 382.30,374.14 381.30,374.20 380.30,374.25 379.30,374.30 378.30,374.35 377.30,374.40 376.30,374.46 375.30,374.51 374.30,374.56 373.30,374.62 372.30,374.68 371.30,374.73 370.30,374.79 369.30,374.85 368.30,374.91 367.30,374.98 366.30,375.04 365.30,375.11 364.30,375.18 363.30,375.25 362.30,375.32 361.30,375.40 360.30,375.48 359.30,375.56 358.30,375.64 357.30,375.73 356.30,375.82 355.30,375.92 354.30,376.02 353.30,376.12 352.30,376.23 351.30,376.34 350.30,376.45 349.30,376.57 348.30,376.70 347.30,376.82 346.30,376.96 345.30,377.10 344.30,377.24 343.30,377.39 342.30,377.54 341.30,377.70 340.30,377.86 339.30,378.03 338.30,378.21 337.30,378.39 336.30,378.58 335.30,378.78 334.30,378.98 333.30,379.18 332.30,379.39 331.30,379.61 330.30,379.83 329.30,380.06 328.30,380.29 327.30,380.52 326.30,380.77 325.30,381.01 324.30,381.26 323.30,381.52 322.30,381.78 321.30,382.04 320.30,382.31 319.30,382.59 318.30,382.86 317.30,383.14 316.30,383.43 315.30,383.72 314.30,384.01 313.30,384.30 312.30,384.60 311.30,384.91 310.30,385.21 309.30,385.52 308.30,385.83 307.30,386.15 306.30,386.47 305.30,386.79 304.30,387.11 303.30,387.44 302.30,387.77 301.30,388.10 300.30,388.43 299.30,388.77 298.30,389.11 297.30,389.44 296.30,389.79 295.30,390.13 294.30,390.47 293.30,390.82 292.30,391.17 291.30,391.52 290.30,391.87 289.30,392.22 288.30,392.57 287.30,392.93 286.30,393.28 285.30,393.64 284.30,394.00 283.30,394.35 282.30,394.71 281.30,395.07 280.30,395.43 279.30,395.78 278.30,396.14 277.30,396.50 276.30,396.86 275.30,397.22 274.30,397.58 273.30,397.94 272.30,398.29 271.30,398.65 270.30,399.01 269.30,399.37 268.30,399.73 267.30,400.08 266.30,400.44 265.30,400.80 264.30,401.15 263.30,401.51 262.30,401.86 261.30,402.22 260.30,402.57 259.30,402.92 258.30,403.27 257.30,403.62 256.30,403.98 255.30,404.32 254.30,404.67 253.30,405.02 252.30,405.37 251.30,405.71 250.30,406.06 249.30,406.40 248.30,406.74 247.30,407.08 246.30,407.42 245.30,407.76 244.30,408.09 243.30,408.43 242.30,408.76 241.30,409.10 240.30,409.43 239.30,409.76 238.30,410.08 237.30,410.41 236.30,410.73 235.30,411.05 234.30,411.37 233.30,411.69 232.30,412.01 231.30,412.32 230.30,412.64 229.30,412.95 228.30,413.25 227.30,413.56 226.30,413.86 225.30,414.17 224.30,414.47 223.30,414.76 222.30,415.06 221.30,415.35 220.30,415.64 219.30,415.93 218.30,416.21 217.30,416.49 216.30,416.77 215.30,417.05 214.30,417.32 213.30,417.59 212.30,417.86 211.30,418.13 210.30,418.39 209.30,418.65 208.30,418.91 207.30,419.16 206.30,419.41 205.30,419.66 204.30,419.90 203.30,420.15 202.30,420.38 201.30,420.62 200.30,420.85 199.30,421.08 198.30,421.30 197.30,421.52 196.30,421.74 195.30,421.95 194.30,422.16 193.30,422.37 192.30,422.57 191.30,422.77 190.30,422.97 189.30,423.16 188.30,423.34 187.30,423.53 186.30,423.71 185.30,423.88 184.30,424.05 183.30,424.22 182.30,424.38 181.30,424.54 180.30,424.70 Z" fill="#E41A1C" fill-opacity="0.35"/>
<path d="M78.50,21.40 79.50,23.59 80.50,25.98 81.50,28.56 82.50,31.33 83.50,34.25 84.50,37.33 85.50,40.53 86.50,43.85 87.50,47.27 88.50,50.78 89.50,54.36 90.50,58.00 91.50,61.67 92.50,65.33 93.50,68.94 94.50,72.45 95.50,75.81 96.50,79.03 97.50,82.11 98.50,85.09 99.50,87.99 100.50,90.85 101.50,93.67 102.50,96.49 103.50,99.30 104.50,102.09 105.50,104.87 106.50,107.63 107.50,110.38 108.50,113.11 109.50,115.83 110.50,118.53 111.50,121.21 112.50,123.87 113.50,126.52 114.50,129.14 115.50,131.74 116.50,134.32 117.50,136.88 118.50,139.41 119.50,141.92 120.50,144.41 121.50,146.87 122.50,149.30 123.50,151.71 124.50,154.09 125.50,156.45 126.50,158.78 127.50,161.09 128.50,163.38 129.50,165.63 130.50,167.87 131.50,170.08 132.50,172.27 133.50,174.43 134.50,176.57 135.50,178.69 136.50,180.78 137.50,182.85 138.50,184.90 139.50,186.93 140.50,188.93 141.50,190.92 142.50,192.88 143.50,194.82 144.50,196.73 145.50,198.63 146.50,200.51 147.50,202.36 148.50,204.20 149.50,206.01 150.50,207.81 151.50,209.58 152.50,211.34 153.50,213.07 154.50,214.79 155.50,216.49 156.50,218.17 157.50,219.83 158.50,221.47 159.50,223.09 160.50,224.70 161.50,226.29 162.50,227.86 163.50,229.41 164.50,230.95 165.50,232.47 166.50,233.97 167.50,235.46 168.50,236.93 169.50,238.38 170.50,239.82 171.50,241.24 172.50,242.65 173.50,244.04 174.50,245.41 175.50,246.78 176.50,248.12 177.50,249.45 178.50,250.77 179.50,252.08 180.50,253.37 181.50,254.64 182.50,255.91 183.50,257.15 184.50,258.39 185.50,259.61 186.50,260.82 187.50,262.02 188.50,263.20 189.50,264.37 190.50,265.52 191.50,266.67 192.50,267.80 193.50,268.92 194.50,270.02 195.50,271.12 196.50,272.20 197.50,273.27 198.50,274.33 199.50,275.37 200.50,276.41 201.50,277.43 202.50,278.44 203.50,279.44 204.50,280.43 205.50,281.41 206.50,282.38 207.50,283.33 208.50,284.28 209.50,285.22 210.50,286.14 211.50,287.06 212.50,287.96 213.50,288.85 214.50,289.74 215.50,290.61 216.50,291.48 217.50,292.33 218.50,293.18 219.50,294.02 220.50,294.84 221.50,295.66 222.50,296.47 223.50,297.27 224.50,298.06 225.50,298.85 226.50,299.62 227.50,300.39 228.50,301.15 229.50,301.91 230.50,302.65 231.50,303.39 232.50,304.12 233.50,304.84 234.50,305.56 235.50,306.27 236.50,306.98 237.50,307.68 238.50,308.37 239.50,309.06 240.50,309.74 241.50,310.42 242.50,311.09 243.50,311.76 244.50,312.42 245.50,313.08 246.50,313.74 247.50,314.39 248.50,315.03 249.50,315.68 250.50,316.31 251.50,316.95 252.50,317.58 253.50,318.21 254.50,318.84 255.50,319.46 256.50,320.09 257.50,320.71 258.50,321.32 259.50,321.94 260.50,322.56 261.50,323.17 262.50,323.78 263.50,324.39 264.50,325.00 265.50,325.61 266.50,326.22 267.50,326.83 268.50,327.44 269.50,328.05 270.50,328.66 271.50,329.27 272.50,329.88 273.50,330.49 274.50,331.11 275.50,331.72 276.50,332.34 277.50,332.95 278.50,333.57 279.50,334.20 280.50,334.82 281.50,335.45 282.50,336.08 283.50,336.71 284.50,337.35 285.50,337.99 286.50,338.63 287.50,339.28 288.50,339.93 289.50,340.59 290.50,341.25 291.50,341.91 292.50,342.58 293.50,343.25 294.50,343.93 295.50,344.62 296.50,345.31 297.50,346.00 298.50,346.71 299.50,347.42 300.50,348.13 301.50,348.85 302.50,349.58 303.50,350.32 304.50,351.06 305.50,351.81 306.50,352.56 307.50,353.32 308.50,354.07 309.50,354.83 310.50,355.59 311.50,356.35 312.50,357.10 313.50,357.85 314.50,358.59 315.50,359.33 316.50,360.06 317.50,360.77 318.50,361.48 319.50,362.17 320.50,362.85 321.50,363.52 322.50,364.17 323.50,364.80 324.50,365.41 325.50,366.00 326.50,366.57 327.50,367.12 328.50,367.65 329.50,368.14 330.50,368.62 331.50,369.06 332.50,369.47 333.50,369.86 333.90,370.00 334.90,369.71 335.90,369.43 336.90,369.15 337.90,368.88 338.90,368.62 339.90,368.37 340.90,368.12 341.90,367.88 342.90,367.64 343.90,367.41 344.90,367.19 345.90,366.98 346.90,366.77 347.90,366.57 348.90,366.37 349.90,366.19 350.90,366.00 351.90,365.83 352.90,365.66 353.90,365.50 354.90,365.34 355.90,365.19 356.90,365.05 357.90,364.91 358.90,364.78 359.90,364.66 360.90,364.54 361.90,364.43 362.90,364.32 363.90,364.22 364.90,364.13 365.90,364.04 366.90,363.96 367.90,363.88 368.90,363.81 369.90,363.75 370.90,363.68 371.90,363.62 372.90,363.57 373.90,363.52 374.90,363.47 375.90,363.42 376.90,363.37 377.90,363.33 378.90,363.28 379.90,363.24 380.90,363.20 381.90,363.16 382.90,363.11 383.90,363.07 384.90,363.02 385.90,362.98 386.90,362.93 387.90,362.88 388.90,362.82 389.90,362.77 390.90,362.71 391.90,362.64 392.90,362.57 393.90,362.50 394.90,362.42 395.90,362.33 396.90,362.24 397.90,362.15 398.90,362.04 399.90,361.93 400.90,361.81 401.90,361.69 402.90,361.55 403.90,361.41 404.90,361.26 405.90,361.10 406.90,360.93 407.90,360.75 408.90,360.56 409.90,360.36 410.90,360.15 411.90,359.93 412.90,359.71 413.90,359.49 414.90,359.26 415.90,359.02 416.90,358.79 417.90,358.55 418.90,358.31 419.90,358.08 420.90,357.84 421.90,357.61 422.90,357.38 423.90,357.16 424.90,356.94 425.90,356.73 426.90,356.52 427.90,356.32 428.90,356.12 429.90,355.93 430.90,355.74 431.90,355.54 432.90,355.35 433.90,355.16 434.90,354.96 435.90,354.76 436.90,354.55 437.90,354.34 438.90,354.12 439.90,353.90 440.90,353.66 441.90,353.42 442.90,353.16 443.90,352.89 444.90,352.61 445.90,352.32 446.90,352.01 447.90,351.69 448.90,351.36 449.90,351.01 450.90,350.65 451.90,350.27 452.90,349.89 453.90,349.49 454.90,349.08 455.90,348.66 456.90,348.23 457.90,347.79 458.90,347.34 459.90,346.88 460.90,346.40 461.90,345.92 462.90,345.43 463.90,344.93 464.90,344.42 465.90,343.91 466.90,343.38 467.90,342.84 468.90,342.30 469.90,341.75 470.90,341.19 471.90,340.62 472.90,340.04 473.90,339.45 474.90,338.85 475.90,338.25 476.90,337.64 477.90,337.01 478.90,336.38 479.90,335.75 480.90,335.10 481.90,334.45 482.90,333.78 483.90,333.11 484.90,332.43 485.90,331.75 486.90,331.05 487.90,330.35 488.90,329.64 489.90,328.92 490.90,328.19 491.90,327.46 492.90,326.72 493.90,325.97 494.90,325.21 495.90,324.44 496.90,323.67 497.90,322.89 498.90,322.10 499.90,321.31 500.90,320.51 501.90,319.70 502.90,318.88 503.90,318.06 504.90,317.22 505.90,316.39 506.90,315.54 507.90,314.69 508.90,313.83 509.90,312.96 510.90,312.09 511.90,311.21 512.90,310.32 513.90,309.42 514.90,308.52 515.90,307.62 516.90,306.70 517.90,305.78 518.90,304.85 519.90,303.92 520.90,302.98 521.90,302.03 522.90,301.08 523.90,300.12 524.90,299.15 525.90,298.18 526.90,297.20 527.90,296.22 528.90,295.22 529.90,294.23 530.90,293.22 531.90,292.21 532.90,291.20 533.90,290.18 534.90,289.15 535.90,288.12 536.90,287.08 537.90,286.04 538.90,284.99 539.90,283.93 540.90,282.87 541.90,281.80 542.90,280.73 543.90,279.65 544.90,278.57 545.90,277.48 546.90,276.39 547.90,275.29 548.90,274.19 549.90,273.08 550.90,271.96 551.90,270.84 552.90,269.72 553.90,268.59 554.90,267.45 555.90,266.31 556.90,265.17 557.90,264.02 558.90,262.86 559.90,261.70 560.90,260.54 561.90,259.37 562.90,258.20 563.90,257.02 564.90,255.84 565.90,254.65 566.90,253.46 567.90,252.27 568.90,251.07 569.90,249.86 570.20,249.50 L570.20,423.10 569.90,423.06 568.90,422.93 567.90,422.80 566.90,422.66 565.90,422.52 564.90,422.38 563.90,422.24 562.90,422.09 561.90,421.95 560.90,421.80 559.90,421.65 558.90,421.50 557.90,421.34 556.90,421.18 555.90,421.03 554.90,420.87 553.90,420.70 552.90,420.54 551.90,420.37 550.90,420.21 549.90,420.04 548.90,419.87 547.90,419.69 546.90,419.52 545.90,419.34 544.90,419.17 543.90,418.99 542.90,418.81 541.90,418.62 540.90,418.44 539.90,418.26 538.90,418.07 537.90,417.88 536.90,417.69 535.90,417.50 534.90,417.31 533.90,417.12 532.90,416.92 531.90,416.73 530.90,416.53 529.90,416.33 528.90,416.14 527.90,415.94 526.90,415.74 525.90,415.53 524.90,415.33 523.90,415.13 522.90,414.92 521.90,414.72 520.90,414.51 519.90,414.30 518.90,414.10 517.90,413.89 516.90,413.68 515.90,413.47 514.90,413.26 513.90,413.05 512.90,412.83 511.90,412.62 510.90,412.41 509.90,412.20 508.90,411.98 507.90,411.77 506.90,411.55 505.90,411.34 504.90,411.12 503.90,410.90 502.90,410.69 501.90,410.47 500.90,410.25 499.90,410.04 498.90,409.82 497.90,409.60 496.90,409.38 495.90,409.17 494.90,408.95 493.90,408.73 492.90,408.51 491.90,408.30 490.90,408.08 489.90,407.86 488.90,407.64 487.90,407.43 486.90,407.21 485.90,406.99 484.90,406.78 483.90,406.56 482.90,406.35 481.90,406.14 480.90,405.92 479.90,405.71 478.90,405.50 477.90,405.29 476.90,405.07 475.90,404.86 474.90,404.66 473.90,404.45 472.90,404.24 471.90,404.03 470.90,403.83 469.90,403.63 468.90,403.42 467.90,403.22 466.90,403.02 465.90,402.82 464.90,402.62 463.90,402.43 462.90,402.23 461.90,402.04 460.90,401.85 459.90,401.66 458.90,401.47 457.90,401.28 456.90,401.10 455.90,400.91 454.90,400.73 453.90,400.55 452.90,400.37 451.90,400.20 450.90,400.02 449.90,399.85 448.90,399.68 447.90,399.51 446.90,399.35 445.90,399.18 444.90,399.02 443.90,398.86 442.90,398.71 441.90,398.55 440.90,398.40 439.90,398.25 438.90,398.10 437.90,397.95 436.90,397.80 435.90,397.66 434.90,397.52 433.90,397.37 432.90,397.23 431.90,397.09 430.90,396.95 429.90,396.81 428.90,396.67 427.90,396.54 426.90,396.40 425.90,396.26 424.90,396.13 423.90,395.99 422.90,395.85 421.90,395.72 420.90,395.58 419.90,395.44 418.90,395.30 417.90,395.16 416.90,395.02 415.90,394.88 414.90,394.74 413.90,394.60 412.90,394.46 411.90,394.31 410.90,394.17 409.90,394.02 408.90,393.87 407.90,393.72 406.90,393.57 405.90,393.41 404.90,393.25 403.90,393.10 402.90,392.93 401.90,392.77 400.90,392.61 399.90,392.44 398.90,392.27 397.90,392.09 396.90,391.91 395.90,391.73 394.90,391.55 393.90,391.36 392.90,391.17 391.90,390.98 390.90,390.78 389.90,390.58 388.90,390.38 387.90,390.17 386.90,389.96 385.90,389.74 384.90,389.52 383.90,389.30 382.90,389.07 381.90,388.83 380.90,388.59 379.90,388.35 378.90,388.10 377.90,387.85 376.90,387.59 375.90,387.32 374.90,387.05 373.90,386.78 372.90,386.50 371.90,386.21 370.90,385.92 369.90,385.62 368.90,385.32 367.90,385.01 366.90,384.69 365.90,384.37 364.90,384.04 363.90,383.70 362.90,383.36 361.90,383.01 360.90,382.65 359.90,382.29 358.90,381.92 357.90,381.54 356.90,381.15 355.90,380.76 354.90,380.36 353.90,379.95 352.90,379.54 351.90,379.11 350.90,378.68 349.90,378.24 348.90,377.79 347.90,377.34 346.90,376.87 345.90,376.40 344.90,375.91 343.90,375.42 342.90,374.92 341.90,374.41 340.90,373.90 339.90,373.37 338.90,372.83 337.90,372.28 336.90,371.73 335.90,371.16 334.90,370.59 333.90,370.00 333.50,370.00 332.50,370.00 331.50,370.00 330.50,370.00 329.50,370.00 328.50,370.01 327.50,370.01 326.50,370.02 325.50,370.03 324.50,370.04 323.50,370.05 322.50,370.06 321.50,370.07 320.50,370.08 319.50,370.09 318.50,370.11 317.50,370.12 316.50,370.13 315.50,370.15 314.50,370.16 313.50,370.18 312.50,370.19 311.50,370.20 310.50,370.22 309.50,370.23 308.50,370.24 307.50,370.25 306.50,370.26 305.50,370.27 304.50,370.28 303.50,370.29 302.50,370.29 301.50,370.30 300.50,370.30 299.50,370.30 298.50,370.30 297.50,370.30 296.50,370.30 295.50,370.29 294.50,370.29 293.50,370.28 292.50,370.26 291.50,370.25 290.50,370.23 289.50,370.21 288.50,370.19 287.50,370.17 286.50,370.14 285.50,370.11 284.50,370.08 283.50,370.04 282.50,370.00 281.50,369.96 280.50,369.91 279.50,369.86 278.50,369.80 277.50,369.75 276.50,369.68 275.50,369.62 274.50,369.55 273.50,369.47 272.50,369.40 271.50,369.31 270.50,369.22 269.50,369.13 268.50,369.04 267.50,368.93 266.50,368.83 265.50,368.72 264.50,368.60 263.50,368.48 262.50,368.35 261.50,368.22 260.50,368.08 259.50,367.93 258.50,367.78 257.50,367.63 256.50,367.47 255.50,367.30 254.50,367.12 253.50,366.95 252.50,366.76 251.50,366.57 250.50,366.37 249.50,366.17 248.50,365.97 247.50,365.76 246.50,365.54 245.50,365.33 244.50,365.11 243.50,364.88 242.50,364.65 241.50,364.42 240.50,364.19 239.50,363.95 238.50,363.72 237.50,363.48 236.50,363.23 235.50,362.99 234.50,362.75 233.50,362.50 232.50,362.25 231.50,362.01 230.50,361.76 229.50,361.51 228.50,361.27 227.50,361.02 226.50,360.77 225.50,360.53 224.50,360.28 223.50,360.04 222.50,359.80 221.50,359.56 220.50,359.33 219.50,359.09 218.50,358.86 217.50,358.63 216.50,358.41 215.50,358.18 214.50,357.96 213.50,357.75 212.50,357.54 211.50,357.33 210.50,357.13 209.50,356.93 208.50,356.73 207.50,356.54 206.50,356.35 205.50,356.16 204.50,355.98 203.50,355.80 202.50,355.62 201.50,355.45 200.50,355.28 199.50,355.12 198.50,354.96 197.50,354.80 196.50,354.64 195.50,354.49 194.50,354.34 193.50,354.20 192.50,354.05 191.50,353.91 190.50,353.78 189.50,353.64 188.50,353.51 187.50,353.39 186.50,353.26 185.50,353.14 184.50,353.02 183.50,352.91 182.50,352.80 181.50,352.69 180.50,352.58 179.50,352.48 178.50,352.38 177.50,352.28 176.50,352.18 175.50,352.09 174.50,352.00 173.50,351.92 172.50,351.83 171.50,351.75 170.50,351.67 169.50,351.59 168.50,351.52 167.50,351.45 166.50,351.38 165.50,351.31 164.50,351.25 163.50,351.18 162.50,351.12 161.50,351.07 160.50,351.01 159.50,350.96 158.50,350.91 157.50,350.86 156.50,350.81 155.50,350.77 154.50,350.73 153.50,350.69 152.50,350.65 151.50,350.61 150.50,350.58 149.50,350.55 148.50,350.52 147.50,350.49 146.50,350.47 145.50,350.44 144.50,350.42 143.50,350.40 142.50,350.38 141.50,350.37 140.50,350.35 139.50,350.34 138.50,350.33 137.50,350.32 136.50,350.31 135.50,350.30 134.50,350.30 133.50,350.29 132.50,350.29 131.50,350.29 130.50,350.29 129.50,350.29 128.50,350.30 127.50,350.30 126.50,350.31 125.50,350.32 124.50,350.33 123.50,350.34 122.50,350.35 121.50,350.36 120.50,350.38 119.50,350.39 118.50,350.41 117.50,350.43 116.50,350.45 115.50,350.47 114.50,350.49 113.50,350.51 112.50,350.53 111.50,350.56 110.50,350.58 109.50,350.61 108.50,350.63 107.50,350.66 106.50,350.69 105.50,350.72 104.50,350.75 103.50,350.78 102.50,350.81 101.50,350.84 100.50,350.88 99.50,350.91 98.50,350.94 97.50,350.98 96.50,351.01 95.50,351.05 94.50,351.08 93.50,351.12 92.50,351.16 91.50,351.19 90.50,351.23 89.50,351.27 88.50,351.31 87.50,351.35 86.50,351.38 85.50,351.42 84.50,351.46 83.50,351.50 82.50,351.54 81.50,351.58 80.50,351.62 79.50,351.66 78.50,351.70 Z" fill="#377EB8" fill-opacity="0.35"/>
<path d="M61.70,409.00 62.70,408.88 63.70,408.75 64.70,408.63 65.70,408.50 66.70,408.37 67.70,408.24 68.70,408.11 69.70,407.98 70.70,407.85 71.70,407.72 72.70,407.59 73.70,407.46 74.70,407.32 75.70,407.19 76.70,407.05 77.70,406.92 78.70,406.78 79.70,406.64 80.70,406.50 81.70,406.36 82.70,406.22 83.70,406.08 84.70,405.94 85.70,405.80 86.70,405.66 87.70,405.52 88.70,405.38 89.70,405.23 90.70,405.09 91.70,404.94 92.70,404.80 93.70,404.65 94.70,404.51 95.70,404.36 96.70,404.21 97.70,404.06 98.70,403.92 99.70,403.77 100.70,403.62 101.70,403.47 102.70,403.32 103.70,403.17 104.70,403.02 105.70,402.87 106.70,402.72 107.70,402.57 108.70,402.42 109.70,402.26 110.70,402.11 111.70,401.96 112.70,401.81 113.70,401.65 114.70,401.50 115.70,401.35 116.70,401.19 117.70,401.04 118.70,400.89 119.70,400.73 120.70,400.58 121.70,400.42 122.70,400.27 123.70,400.11 124.70,399.96 125.70,399.80 126.70,399.65 127.70,399.49 128.70,399.34 129.70,399.18 130.70,399.03 131.70,398.87 132.70,398.72 133.70,398.56 134.70,398.41 135.70,398.25 136.70,398.10 137.70,397.94 138.70,397.79 139.70,397.63 140.70,397.48 141.70,397.33 142.70,397.17 143.70,397.02 144.70,396.86 145.70,396.71 146.70,396.56 147.70,396.40 148.70,396.25 149.70,396.10 150.70,395.94 151.70,395.79 152.70,395.64 153.70,395.49 154.70,395.33 155.70,395.18 156.70,395.03 157.70,394.88 158.70,394.73 159.70,394.58 160.70,394.43 161.70,394.28 162.70,394.13 163.70,393.98 164.70,393.83 165.70,393.68 166.70,393.52 167.70,393.37 168.70,393.22 169.70,393.06 170.70,392.91 171.70,392.75 172.70,392.59 173.70,392.44 174.70,392.28 175.70,392.12 176.70,391.95 177.70,391.79 178.70,391.62 179.70,391.46 180.70,391.29 181.70,391.12 182.70,390.94 183.70,390.77 184.70,390.59 185.70,390.41 186.70,390.23 187.70,390.04 188.70,389.86 189.70,389.67 190.70,389.47 191.70,389.28 192.70,389.08 193.70,388.88 194.70,388.67 195.70,388.46 196.70,388.25 197.70,388.04 198.70,387.82 199.70,387.59 200.70,387.37 201.70,387.14 202.70,386.90 203.70,386.67 204.70,386.42 205.70,386.18 206.70,385.93 207.70,385.67 208.70,385.41 209.70,385.15 210.70,384.88 211.70,384.61 212.70,384.34 213.70,384.06 214.70,383.78 215.70,383.49 216.70,383.20 217.70,382.91 218.70,382.62 219.70,382.32 220.70,382.02 221.70,381.72 222.70,381.42 223.70,381.11 224.70,380.81 225.70,380.50 226.70,380.19 227.70,379.88 228.70,379.56 229.70,379.25 230.70,378.93 231.70,378.62 232.70,378.30 233.70,377.99 234.70,377.67 235.70,377.35 236.70,377.03 237.70,376.72 238.70,376.40 239.70,376.08 240.70,375.77 241.70,375.45 242.70,375.14 243.70,374.82 244.70,374.51 245.70,374.20 246.70,373.89 247.70,373.58 248.70,373.28 249.70,372.97 250.70,372.67 251.70,372.37 252.70,372.07 253.70,371.78 254.70,371.49 255.70,371.20 256.70,370.91 257.70,370.63 258.70,370.35 259.70,370.07 260.70,369.80 261.70,369.53 262.70,369.27 263.70,369.01 264.70,368.75 265.70,368.50 266.70,368.25 267.70,368.01 268.70,367.77 269.70,367.53 270.70,367.31 271.70,367.08 272.70,366.87 273.70,366.65 274.70,366.45 275.70,366.25 276.70,366.05 277.70,365.87 278.70,365.68 279.70,365.51 280.70,365.34 281.70,365.18 282.70,365.02 283.70,364.88 284.70,364.74 285.70,364.60 286.70,364.48 287.70,364.36 288.70,364.25 289.70,364.15 290.70,364.06 291.70,363.97 292.70,363.89 293.70,363.83 294.70,363.77 295.70,363.72 296.70,363.67 297.70,363.64 298.70,363.62 299.70,363.61 300.70,363.60 301.70,363.61 302.70,363.63 303.70,363.65 304.70,363.69 305.70,363.74 306.70,363.79 307.70,363.86 308.70,363.94 309.70,364.03 310.70,364.13 311.70,364.25 312.70,364.37 313.70,364.51 314.70,364.66 315.70,364.82 316.70,364.99 317.70,365.17 318.70,365.37 319.70,365.58 320.70,365.80 321.70,366.04 322.70,366.28 323.70,366.55 324.70,366.82 325.70,367.11 326.70,367.41 327.70,367.73 328.70,368.06 329.70,368.40 330.70,368.76 331.70,369.13 332.70,369.52 333.70,369.92 333.90,370.00 334.90,369.70 335.90,369.39 336.90,369.09 337.90,368.79 338.90,368.49 339.90,368.19 340.90,367.89 341.90,367.59 342.90,367.29 343.90,367.00 344.90,366.70 345.90,366.41 346.90,366.11 347.90,365.82 348.90,365.53 349.90,365.24 350.90,364.95 351.90,364.66 352.90,364.37 353.90,364.08 354.90,363.79 355.90,363.51 356.90,363.22 357.90,362.94 358.90,362.65 359.90,362.37 360.90,362.09 361.90,361.81 362.90,361.53 363.90,361.25 364.90,360.97 365.90,360.69 366.90,360.42 367.90,360.14 368.90,359.87 369.90,359.59 370.90,359.32 371.90,359.05 372.90,358.78 373.90,358.50 374.90,358.24 375.90,357.97 376.90,357.70 377.90,357.43 378.90,357.16 379.90,356.90 380.90,356.63 381.90,356.37 382.90,356.11 383.90,355.85 384.90,355.58 385.90,355.32 386.90,355.06 387.90,354.80 388.90,354.55 389.90,354.29 390.90,354.03 391.90,353.78 392.90,353.52 393.90,353.27 394.90,353.02 395.90,352.76 396.90,352.51 397.90,352.26 398.90,352.01 399.90,351.76 400.90,351.52 401.90,351.27 402.90,351.02 403.90,350.78 404.90,350.53 405.90,350.29 406.90,350.05 407.90,349.80 408.90,349.56 409.90,349.32 410.90,349.08 411.90,348.84 412.90,348.61 413.90,348.37 414.90,348.13 415.90,347.90 416.90,347.66 417.90,347.43 418.90,347.20 419.90,346.96 420.90,346.73 421.90,346.50 422.90,346.27 423.90,346.04 424.90,345.81 425.90,345.59 426.90,345.36 427.90,345.13 428.90,344.91 429.90,344.68 430.90,344.46 431.90,344.24 432.90,344.02 433.90,343.80 434.90,343.57 435.90,343.35 436.90,343.13 437.90,342.91 438.90,342.69 439.90,342.47 440.90,342.24 441.90,342.02 442.90,341.79 443.90,341.56 444.90,341.33 445.90,341.10 446.90,340.86 447.90,340.63 448.90,340.39 449.90,340.14 450.90,339.90 451.90,339.65 452.90,339.40 453.90,339.14 454.90,338.88 455.90,338.62 456.90,338.35 457.90,338.07 458.90,337.80 459.90,337.51 460.90,337.22 461.90,336.93 462.90,336.63 463.90,336.33 464.90,336.02 465.90,335.70 466.90,335.37 467.90,335.04 468.90,334.71 469.90,334.36 470.90,334.01 471.90,333.65 472.90,333.28 473.90,332.91 474.90,332.53 475.90,332.13 476.90,331.73 477.90,331.33 478.90,330.91 479.90,330.48 480.90,330.05 481.90,329.60 482.90,329.14 483.90,328.68 484.90,328.20 485.90,327.72 486.90,327.22 487.90,326.71 488.90,326.19 489.90,325.66 490.90,325.12 491.90,324.57 492.90,324.00 493.90,323.43 494.90,322.84 495.90,322.23 496.90,321.62 497.90,320.99 498.90,320.35 499.90,319.70 500.90,319.03 501.90,318.35 502.90,317.66 503.90,316.96 504.90,316.24 505.90,315.51 506.90,314.77 507.90,314.01 508.90,313.25 509.90,312.47 510.90,311.68 511.90,310.88 512.90,310.07 513.90,309.25 514.90,308.41 515.90,307.57 516.90,306.71 517.90,305.84 518.90,304.96 519.90,304.07 520.90,303.17 521.90,302.26 522.90,301.34 523.90,300.41 524.90,299.46 525.90,298.51 526.90,297.55 527.90,296.58 528.90,295.59 529.90,294.60 530.90,293.60 531.90,292.60 532.90,291.58 533.90,290.56 534.90,289.53 535.90,288.50 536.90,287.46 537.90,286.41 538.90,285.36 539.90,284.31 540.90,283.25 541.90,282.19 542.90,281.12 543.90,280.06 544.90,278.99 545.90,277.92 546.90,276.85 547.90,275.78 548.90,274.71 549.90,273.63 550.90,272.55 551.90,271.47 552.90,270.38 553.90,269.28 554.90,268.17 555.90,267.06 556.90,265.93 557.90,264.80 558.90,263.65 559.90,262.50 560.90,261.32 561.90,260.14 562.90,258.94 563.90,257.72 564.90,256.49 565.90,255.24 566.90,253.97 567.90,252.69 568.90,251.38 569.90,250.05 570.90,248.70 571.90,247.33 572.90,245.93 573.90,244.52 574.90,243.08 575.90,241.62 576.90,240.14 577.90,238.64 578.90,237.12 579.90,235.58 580.90,234.03 581.90,232.45 582.90,230.86 583.90,229.25 584.90,227.63 585.90,225.99 586.90,224.33 587.90,222.66 588.90,220.97 589.90,219.27 590.90,217.56 591.90,215.83 592.90,214.09 593.90,212.34 594.90,210.57 595.90,208.80 596.90,207.01 597.90,205.22 598.90,203.41 599.90,201.59 600.90,199.77 601.90,197.94 602.90,196.10 603.90,194.25 604.90,192.39 605.90,190.53 606.90,188.66 607.90,186.79 608.90,184.91 609.90,183.03 610.90,181.14 611.90,179.25 612.90,177.35 613.90,175.46 614.90,173.56 615.90,171.66 616.90,169.75 617.90,167.85 618.90,165.95 619.90,164.04 620.90,162.14 621.50,161.00 L621.50,374.80 620.90,374.83 619.90,374.88 618.90,374.94 617.90,374.98 616.90,375.03 615.90,375.08 614.90,375.12 613.90,375.16 612.90,375.20 611.90,375.24 610.90,375.27 609.90,375.31 608.90,375.34 607.90,375.38 606.90,375.41 605.90,375.44 604.90,375.46 603.90,375.49 602.90,375.52 601.90,375.54 600.90,375.56 599.90,375.59 598.90,375.61 597.90,375.63 596.90,375.65 595.90,375.67 594.90,375.68 593.90,375.70 592.90,375.72 591.90,375.73 590.90,375.75 589.90,375.76 588.90,375.77 587.90,375.79 586.90,375.80 585.90,375.81 584.90,375.82 583.90,375.83 582.90,375.85 581.90,375.86 580.90,375.87 579.90,375.88 578.90,375.89 577.90,375.90 576.90,375.91 575.90,375.92 574.90,375.93 573.90,375.94 572.90,375.95 571.90,375.96 570.90,375.97 569.90,375.99 568.90,376.00 567.90,376.01 566.90,376.02 565.90,376.04 564.90,376.05 563.90,376.06 562.90,376.08 561.90,376.10 560.90,376.11 559.90,376.13 558.90,376.15 557.90,376.17 556.90,376.19 555.90,376.21 554.90,376.23 553.90,376.25 552.90,376.28 551.90,376.30 550.90,376.33 549.90,376.35 548.90,376.38 547.90,376.41 546.90,376.45 545.90,376.48 544.90,376.51 543.90,376.55 542.90,376.59 541.90,376.62 540.90,376.67 539.90,376.71 538.90,376.75 537.90,376.80 536.90,376.85 535.90,376.90 534.90,376.95 533.90,377.00 532.90,377.06 531.90,377.11 530.90,377.17 529.90,377.23 528.90,377.30 527.90,377.36 526.90,377.43 525.90,377.50 524.90,377.57 523.90,377.65 522.90,377.72 521.90,377.80 520.90,377.88 519.90,377.96 518.90,378.04 517.90,378.12 516.90,378.21 515.90,378.30 514.90,378.38 513.90,378.48 512.90,378.57 511.90,378.66 510.90,378.76 509.90,378.85 508.90,378.95 507.90,379.05 506.90,379.15 505.90,379.26 504.90,379.36 503.90,379.46 502.90,379.57 501.90,379.68 500.90,379.79 499.90,379.90 498.90,380.01 497.90,380.12 496.90,380.24 495.90,380.35 494.90,380.47 493.90,380.59 492.90,380.71 491.90,380.83 490.90,380.95 489.90,381.07 488.90,381.19 487.90,381.31 486.90,381.44 485.90,381.56 484.90,381.69 483.90,381.82 482.90,381.95 481.90,382.07 480.90,382.20 479.90,382.33 478.90,382.47 477.90,382.60 476.90,382.73 475.90,382.86 474.90,383.00 473.90,383.13 472.90,383.26 471.90,383.40 470.90,383.54 469.90,383.67 468.90,383.81 467.90,383.95 466.90,384.08 465.90,384.22 464.90,384.36 463.90,384.50 462.90,384.64 461.90,384.78 460.90,384.91 459.90,385.05 458.90,385.19 457.90,385.33 456.90,385.47 455.90,385.61 454.90,385.75 453.90,385.89 452.90,386.02 451.90,386.16 450.90,386.29 449.90,386.43 448.90,386.56 447.90,386.69 446.90,386.82 445.90,386.95 444.90,387.07 443.90,387.20 442.90,387.32 441.90,387.44 440.90,387.56 439.90,387.67 438.90,387.79 437.90,387.90 436.90,388.01 435.90,388.11 434.90,388.21 433.90,388.31 432.90,388.41 431.90,388.50 430.90,388.59 429.90,388.68 428.90,388.76 427.90,388.84 426.90,388.91 425.90,388.98 424.90,389.05 423.90,389.11 422.90,389.17 421.90,389.22 420.90,389.27 419.90,389.32 418.90,389.36 417.90,389.39 416.90,389.42 415.90,389.45 414.90,389.46 413.90,389.48 412.90,389.49 411.90,389.49 410.90,389.48 409.90,389.48 408.90,389.46 407.90,389.44 406.90,389.41 405.90,389.38 404.90,389.34 403.90,389.29 402.90,389.23 401.90,389.17 400.90,389.11 399.90,389.03 398.90,388.95 397.90,388.86 396.90,388.76 395.90,388.66 394.90,388.55 393.90,388.43 392.90,388.31 391.90,388.17 390.90,388.04 389.90,387.89 388.90,387.74 387.90,387.58 386.90,387.41 385.90,387.24 384.90,387.06 383.90,386.88 382.90,386.68 381.90,386.49 380.90,386.28 379.90,386.07 378.90,385.85 377.90,385.63 376.90,385.39 375.90,385.16 374.90,384.91 373.90,384.66 372.90,384.41 371.90,384.15 370.90,383.88 369.90,383.60 368.90,383.32 367.90,383.04 366.90,382.74 365.90,382.45 364.90,382.14 363.90,381.83 362.90,381.51 361.90,381.19 360.90,380.87 359.90,380.53 358.90,380.19 357.90,379.85 356.90,379.50 355.90,379.14 354.90,378.78 353.90,378.42 352.90,378.04 351.90,377.67 350.90,377.28 349.90,376.90 348.90,376.50 347.90,376.10 346.90,375.70 345.90,375.29 344.90,374.88 343.90,374.46 342.90,374.04 341.90,373.61 340.90,373.17 339.90,372.73 338.90,372.29 337.90,371.84 336.90,371.39 335.90,370.93 334.90,370.47 333.90,370.00 333.70,370.04 332.70,370.24 331.70,370.45 330.70,370.67 329.70,370.89 328.70,371.12 327.70,371.35 326.70,371.59 325.70,371.84 324.70,372.09 323.70,372.34 322.70,372.61 321.70,372.87 320.70,373.15 319.70,373.42 318.70,373.71 317.70,373.99 316.70,374.29 315.70,374.58 314.70,374.89 313.70,375.19 312.70,375.51 311.70,375.82 310.70,376.14 309.70,376.47 308.70,376.80 307.70,377.14 306.70,377.47 305.70,377.82 304.70,378.16 303.70,378.52 302.70,378.87 301.70,379.23 300.70,379.59 299.70,379.96 298.70,380.33 297.70,380.70 296.70,381.08 295.70,381.46 294.70,381.85 293.70,382.23 292.70,382.63 291.70,383.02 290.70,383.42 289.70,383.82 288.70,384.22 287.70,384.63 286.70,385.04 285.70,385.45 284.70,385.86 283.70,386.28 282.70,386.70 281.70,387.12 280.70,387.54 279.70,387.97 278.70,388.40 277.70,388.83 276.70,389.26 275.70,389.70 274.70,390.14 273.70,390.58 272.70,391.02 271.70,391.46 270.70,391.90 269.70,392.35 268.70,392.80 267.70,393.24 266.70,393.69 265.70,394.15 264.70,394.60 263.70,395.05 262.70,395.51 261.70,395.96 260.70,396.42 259.70,396.88 258.70,397.33 257.70,397.79 256.70,398.25 255.70,398.71 254.70,399.17 253.70,399.63 252.70,400.09 251.70,400.56 250.70,401.02 249.70,401.48 248.70,401.94 247.70,402.40 246.70,402.87 245.70,403.33 244.70,403.79 243.70,404.25 242.70,404.71 241.70,405.17 240.70,405.63 239.70,406.09 238.70,406.55 237.70,407.00 236.70,407.46 235.70,407.92 234.70,408.37 233.70,408.83 232.70,409.28 231.70,409.73 230.70,410.18 229.70,410.63 228.70,411.08 227.70,411.52 226.70,411.97 225.70,412.41 224.70,412.85 223.70,413.29 222.70,413.73 221.70,414.16 220.70,414.60 219.70,415.03 218.70,415.46 217.70,415.89 216.70,416.31 215.70,416.73 214.70,417.15 213.70,417.57 212.70,417.99 211.70,418.40 210.70,418.82 209.70,419.23 208.70,419.63 207.70,420.04 206.70,420.44 205.70,420.84 204.70,421.24 203.70,421.63 202.70,422.03 201.70,422.42 200.70,422.80 199.70,423.19 198.70,423.57 197.70,423.95 196.70,424.33 195.70,424.70 194.70,425.07 193.70,425.44 192.70,425.81 191.70,426.17 190.70,426.53 189.70,426.89 188.70,427.24 187.70,427.60 186.70,427.94 185.70,428.29 184.70,428.63 183.70,428.97 182.70,429.31 181.70,429.64 180.70,429.97 179.70,430.30 178.70,430.62 177.70,430.94 176.70,431.26 175.70,431.57 174.70,431.88 173.70,432.19 172.70,432.50 171.70,432.80 170.70,433.09 169.70,433.39 168.70,433.68 167.70,433.96 166.70,434.25 165.70,434.53 164.70,434.80 163.70,435.08 162.70,435.35 161.70,435.61 160.70,435.87 159.70,436.13 158.70,436.39 157.70,436.64 156.70,436.89 155.70,437.14 154.70,437.38 153.70,437.62 152.70,437.86 151.70,438.09 150.70,438.33 149.70,438.55 148.70,438.78 147.70,439.00 146.70,439.22 145.70,439.43 144.70,439.65 143.70,439.86 142.70,440.06 141.70,440.27 140.70,440.47 139.70,440.66 138.70,440.86 137.70,441.05 136.70,441.24 135.70,441.43 134.70,441.61 133.70,441.79 132.70,441.97 131.70,442.14 130.70,442.31 129.70,442.48 128.70,442.65 127.70,442.82 126.70,442.98 125.70,443.14 124.70,443.29 123.70,443.45 122.70,443.60 121.70,443.75 120.70,443.89 119.70,444.03 118.70,444.18 117.70,444.31 116.70,444.45 115.70,444.58 114.70,444.71 113.70,444.84 112.70,444.97 111.70,445.09 110.70,445.22 109.70,445.33 108.70,445.45 107.70,445.57 106.70,445.68 105.70,445.79 104.70,445.90 103.70,446.00 102.70,446.11 101.70,446.21 100.70,446.31 99.70,446.40 98.70,446.50 97.70,446.59 96.70,446.68 95.70,446.77 94.70,446.86 93.70,446.94 92.70,447.02 91.70,447.10 90.70,447.18 89.70,447.26 88.70,447.33 87.70,447.41 86.70,447.48 85.70,447.55 84.70,447.61 83.70,447.68 82.70,447.74 81.70,447.81 80.70,447.87 79.70,447.92 78.70,447.98 77.70,448.04 76.70,448.09 75.70,448.14 74.70,448.19 73.70,448.24 72.70,448.29 71.70,448.33 70.70,448.37 69.70,448.42 68.70,448.46 67.70,448.50 66.70,448.53 65.70,448.57 64.70,448.60 63.70,448.64 62.70,448.67 61.70,448.70 Z" fill="#4DAF4A" fill-opacity="0.35"/>
<line x1="32.2" y1="369.9" x2="684.6" y2="369.9" stroke="#000" stroke-opacity="0.8" stroke-width="1.9" stroke-dasharray="7.07 7.07"/>
<rect x="32.1" y="0.4" width="652.5" height="469.0" fill="none" stroke="#3a3a3a" stroke-width="1.45"/>
<line x1="27.900000000000002" y1="451.0" x2="32.1" y2="451.0" stroke="#3a3a3a" stroke-width="1.45"/>
<line x1="27.900000000000002" y1="289.0" x2="32.1" y2="289.0" stroke="#3a3a3a" stroke-width="1.45"/>
<line x1="27.900000000000002" y1="127.0" x2="32.1" y2="127.0" stroke="#3a3a3a" stroke-width="1.45"/>
<line x1="129.2" y1="469.4" x2="129.2" y2="473.59999999999997" stroke="#3a3a3a" stroke-width="1.45"/>
<line x1="299.0" y1="469.4" x2="299.0" y2="473.59999999999997" stroke="#3a3a3a" stroke-width="1.45"/>
<line x1="468.6" y1="469.4" x2="468.6" y2="473.59999999999997" stroke="#3a3a3a" stroke-width="1.45"/>
<line x1="638.3" y1="469.4" x2="638.3" y2="473.59999999999997" stroke="#3a3a3a" stroke-width="1.45"/>
<!-- legend keys -->
<rect x="289.0" y="522.0" width="22.0" height="22.0" fill="#E41A1C" fill-opacity="0.35"/>
<line x1="290.2" y1="533.0" x2="309.8" y2="533.0" stroke="#E41A1C" stroke-width="2.3"/>
<rect x="348.2" y="522.0" width="22.0" height="22.0" fill="#377EB8" fill-opacity="0.35"/>
<line x1="349.4" y1="533.0" x2="369.0" y2="533.0" stroke="#377EB8" stroke-width="2.3"/>
<rect x="414.0" y="522.0" width="22.0" height="22.0" fill="#4DAF4A" fill-opacity="0.35"/>
<line x1="415.2" y1="533.0" x2="434.8" y2="533.0" stroke="#4DAF4A" stroke-width="2.3"/>
</svg>
<div class="t yt" style="left:5px;top:445.8px">0</div>
<div class="t yt" style="left:5px;top:283.8px">2</div>
<div class="t yt" style="left:5px;top:121.8px">4</div>
<div class="t xt" style="left:109.19999999999999px;top:475.5px">40</div>
<div class="t xt" style="left:279.0px;top:475.5px">50</div>
<div class="t xt" style="left:448.6px;top:475.5px">60</div>
<div class="t xt" style="left:618.3px;top:475.5px">70</div>
<div class="t ttl" id="xtitle" style="left:261px;top:489.5px">Plant&#8722;based diet index score</div>
<div class="t ttl" id="ytitle" style="left:-1.8px;top:278px;transform:rotate(-90deg);transform-origin:0 0;">OR (95% CI)</div>
<div class="t ttl" id="lgtitle" style="font-size:14.7px;left:245.8px;top:525.8px">Index</div>
<div class="t lg" style="left:320.0px;top:527px">PDI</div>
<div class="t lg" style="left:379.0px;top:527px">hPDI</div>
<div class="t lg" style="left:444.0px;top:527px">uPDI</div>
</body></html>
